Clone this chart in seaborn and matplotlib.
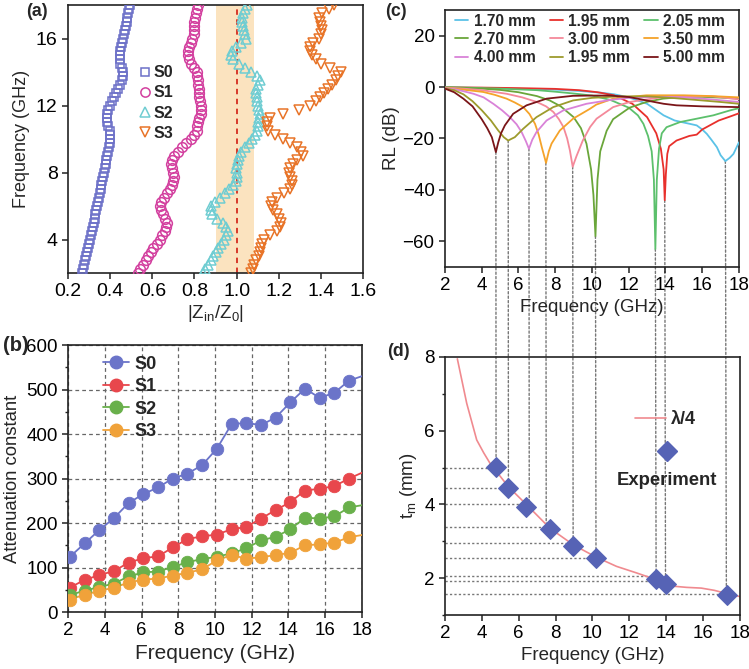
import numpy as np
import pandas as pd
import matplotlib
matplotlib.use("Agg")
import matplotlib.pyplot as plt
import seaborn as sns
from matplotlib.lines import Line2D
from matplotlib.patches import ConnectionPatch
from matplotlib.ticker import MultipleLocator

# ---------------- data: panel (a) ----------------
freq_a = np.arange(2.0, 18.001, 0.25)
z_s0 = [.267, .271, .275, .280, .285, .290, .296, .301, .306, .311, .316, .320, .324, .327, .330, .333,
        .336, .340, .345, .350, .355, .358, .362, .366, .370, .374, .378, .382, .386, .391, .395, .399,
        .401, .401, .397, .392, .387, .384, .384, .389, .397, .408, .420, .430, .438, .448, .458, .463,
        .461, .454, .448, .446, .446, .449, .452, .456, .460, .465, .470, .474, .478, .482, .486, .490, .494]
z_s1 = [.530, .542, .555, .568, .580, .592, .605, .620, .635, .648, .660, .666, .668, .662, .652, .642,
        .636, .642, .655, .670, .685, .694, .700, .702, .700, .694, .690, .695, .705, .720, .740, .762,
        .785, .800, .810, .813, .815, .822, .830, .832, .830, .826, .822, .821, .820, .818, .815, .813,
        .810, .798, .785, .776, .770, .771, .775, .782, .790, .796, .800, .800, .800, .802, .805, .810, .815]
z_s2 = [.840, .852, .865, .878, .890, .900, .910, .925, .940, .950, .958, .950, .935, .908, .885, .876,
        .880, .895, .920, .945, .965, .982, .995, 1.000, 1.000, .998, 1.000, 1.005, 1.010, 1.022, 1.040, 1.058,
        1.075, 1.088, 1.098, 1.100, 1.100, 1.106, 1.110, 1.106, 1.100, 1.097, 1.095, 1.090, 1.090, 1.102, 1.110, 1.095,
        1.070, 1.040, 1.010, .985, .975, .980, .995, 1.020, 1.045, 1.040, 1.035, 1.030, 1.025, 1.026, 1.030, 1.040, 1.050]
z_s3 = [1.068, 1.076, 1.084, 1.094, 1.104, 1.111, 1.116, 1.121, 1.130, 1.160, 1.190, 1.205, 1.210, 1.202, 1.190, 1.172,
        1.163, 1.170, 1.190, 1.225, 1.255, 1.262, 1.263, 1.255, 1.250, 1.252, 1.265, 1.288, 1.315, 1.305, 1.285, 1.255,
        1.220, 1.180, 1.150, 1.142, 1.145, 1.160, 1.220, 1.295, 1.350, 1.375, 1.395, 1.415, 1.435, 1.452, 1.470, 1.482,
        1.495, 1.445, 1.400, 1.375, 1.357, 1.350, 1.350, 1.362, 1.390, 1.400, 1.403, 1.398, 1.395, 1.392, 1.405, 1.440, 1.460]

# ---------------- data: panel (b) ----------------
freq_b = [2.1, 2.9, 3.7, 4.5, 5.3, 6.1, 6.9, 7.7, 8.5, 9.3, 10.1, 10.9, 11.7, 12.5, 13.3, 14.1, 14.9, 15.7, 16.5, 17.3, 18.0]
att_s0 = [124, 154, 184, 211, 245, 265, 280, 300, 311, 330, 367, 422, 425, 420, 437, 471, 502, 481, 493, 520, 530]
att_s1 = [55, 72, 83, 92, 111, 121, 125, 145, 164, 170, 174, 186, 191, 210, 229, 247, 273, 277, 283, 300, 313]
att_s2 = [38, 48, 56, 64, 80, 89, 91, 101, 112, 119, 124, 132, 143, 161, 169, 186, 212, 210, 215, 235, 240]
att_s3 = [28, 39, 47, 55, 66, 73, 75, 82, 88, 96, 116, 128, 120, 123, 128, 133, 150, 152, 156, 168, 173]

# ---------------- data: panel (c) ----------------
f_170 = [2, 4, 6, 8, 9.3, 10.5, 11.2, 12, 13, 13.9, 14.5, 15, 15.7, 16, 16.25, 16.5, 16.8, 17.0, 17.26, 17.5, 17.7, 18]
rl_170 = [-0.2, -0.3, -0.7, -1.0, -1.5, -2.2, -2.8, -4.0, -6.5, -11, -13, -13.8, -14.9, -16.5, -18.2, -20.5, -23.4, -26.5, -28.8, -27.5, -26, -21.5]
f_195 = [2, 4, 6, 8, 9.3, 10.3, 11.2, 12.2, 13.0, 13.5, 13.75, 13.9, 13.96, 14.02, 14.1, 14.2, 14.6, 15.3, 15.7, 16.0, 16.9, 17.5, 18]
rl_195 = [-0.1, -0.2, -0.4, -0.7, -1.2, -2.0, -3.2, -6.5, -11.7, -18, -24, -32, -44, -34, -26, -23, -20.8, -19, -18.5, -16.5, -13, -11.5, -10.2]
f_205 = [2, 3, 5, 7, 8, 9, 10, 11, 12, 12.5, 12.8, 13.05, 13.25, 13.37, 13.45, 13.53, 13.65, 13.8, 14.06, 14.8, 15.7, 16.6, 17.5, 18]
rl_205 = [-0.1, -0.2, -0.6, -1.2, -1.8, -2.5, -3.3, -5, -8, -11, -14.3, -19, -25, -36, -63, -36, -24, -18, -15.6, -13.6, -12.3, -11, -9.1, -8.2]
f_270 = [2, 3, 4, 5, 6, 7, 7.7, 8.3, 9.0, 9.4, 9.7, 9.95, 10.08, 10.19, 10.3, 10.45, 10.8, 11.15, 12.05, 12.96, 13.86, 15, 16, 17, 18]
rl_270 = [-0.1, -0.3, -0.6, -1.1, -2.0, -3.5, -5.2, -7.5, -11.7, -16, -22, -32, -42, -58, -36, -25, -17, -12.5, -8, -5.8, -4.5, -3.8, -3.8, -4.1, -4.5]
f_300 = [2, 3, 4, 5.35, 6.2, 7.0, 7.5, 7.9, 8.2, 8.45, 8.65, 8.8, 8.95, 9.15, 9.5, 9.9, 10.25, 11.15, 12.05, 13.86, 15, 16.6, 18]
rl_300 = [-0.2, -0.6, -1.2, -2.6, -4.0, -5.8, -7.5, -9.7, -12.5, -15.6, -20, -24.7, -31, -27, -20.8, -15.5, -12.3, -7.8, -5.8, -3.9, -3.5, -3.6, -4.8]
f_350 = [2, 3, 4.08, 4.7, 5.35, 5.8, 6.26, 6.6, 6.9, 7.1, 7.27, 7.5, 7.65, 7.8, 8.25, 8.97, 9.88, 10.24, 11.15, 12.96, 15, 16.5, 18]
rl_350 = [-0.3, -1.0, -1.9, -3.0, -4.5, -6.0, -7.8, -10.5, -14.3, -18.5, -23.4, -29.5, -25, -22, -16.9, -12.3, -8.5, -6.8, -4.5, -3.2, -3.2, -3.5, -4.0]
f_400 = [2, 2.5, 3.0, 3.55, 4.1, 4.63, 5.1, 5.53, 5.9, 6.17, 6.4, 6.57, 6.75, 6.98, 7.53, 8.43, 9.7, 11, 12, 13.5, 15, 16.5, 18]
rl_400 = [-0.4, -0.8, -1.6, -2.6, -4.0, -6.5, -9.0, -11.7, -14.5, -17.5, -21, -24, -20.5, -17.5, -13, -9.1, -6.5, -5.0, -4.2, -3.8, -4.0, -4.8, -5.8]
f_195b = [2, 2.5, 3.0, 3.5, 4.0, 4.5, 4.9, 5.2, 5.44, 5.6, 5.8, 6.26, 6.98, 7.89, 8.97, 10, 11.5, 13, 14.5, 16, 17, 18]
rl_195b = [-0.5, -1.2, -2.8, -5.5, -9.0, -13, -16.9, -19.5, -20.8, -20.2, -19.5, -16.2, -11.7, -7.8, -5.2, -4.2, -3.6, -3.6, -4.3, -5.2, -5.8, -6.5]
f_500 = [2, 2.5, 3.0, 3.5, 4.0, 4.3, 4.55, 4.77, 4.9, 5.05, 5.26, 5.71, 6.44, 7.53, 8.97, 10, 11, 12.05, 12.96, 13.9, 14.6, 16, 18]
rl_500 = [-0.6, -2.0, -4.5, -7.5, -12.5, -16, -19.5, -25.3, -21.5, -18, -14.9, -10.4, -7.1, -4.5, -3.4, -3.3, -3.3, -3.9, -5.2, -6.5, -7.1, -7.5, -7.8]

# ---------------- data: panel (d) ----------------
dip_f = [4.77, 5.44, 6.57, 7.49, 8.95, 10.19, 13.45, 13.96, 17.26]
dip_rl = [-25.3, -20.8, -24, -29.5, -31, -58, -63, -44, -28.8]
t_level = [4.98, 4.44, 4.0, 3.4, 2.95, 2.56, 2.07, 1.91, 1.58]
exp_f = [4.74, 5.44, 6.4, 7.71, 8.94, 10.18, 13.42, 14.0, 17.27]
exp_t = [5.02, 4.45, 3.94, 3.34, 2.88, 2.54, 1.97, 1.84, 1.55]
qw_f = [2.67, 3.18, 3.72, 4.1, 4.45, 5.44, 6.43, 7.7, 8.97, 10.2, 11.3, 12.4, 13.5, 14.2, 15.1, 15.9, 16.6, 17.3, 18.0]
qw_t = [7.95, 6.74, 5.75, 5.4, 5.11, 4.48, 3.99, 3.35, 2.9, 2.57, 2.32, 2.14, 1.95, 1.79, 1.75, 1.73, 1.67, 1.58, 1.5]

# ---------------- style ----------------
sns.set_theme(style="ticks")
plt.rcParams["font.family"] = ["Liberation Sans", "DejaVu Sans"]
plt.rcParams.update({
    "axes.linewidth": 1.2, "axes.edgecolor": "#222222",
    "xtick.direction": "out", "ytick.direction": "out",
    "xtick.major.size": 4, "ytick.major.size": 4,
    "xtick.minor.size": 2.5, "ytick.minor.size": 2.5,
    "xtick.major.width": 1.1, "ytick.major.width": 1.1,
    "xtick.color": "#222222", "ytick.color": "#222222",
    "xtick.labelcolor": "black", "ytick.labelcolor": "black",
    "mathtext.default": "regular",
})

fig = plt.figure(figsize=(7.49, 6.69), dpi=100)
ax_a = fig.add_axes([0.0908, 0.5919, 0.3940, 0.4006])
ax_b = fig.add_axes([0.0908, 0.0852, 0.3925, 0.3991])
ax_c = fig.add_axes([0.5941, 0.6009, 0.3925, 0.3842])
ax_d = fig.add_axes([0.5941, 0.0807, 0.3939, 0.3857])
ax_c.set_facecolor("none")
ax_d.set_facecolor("none")

TICK = 13.5
LAB = 13.5

# ---------------- panel (a) ----------------
ax_a.axvspan(0.9, 1.08, color="#fbe3bf", zorder=0, lw=0)
ax_a.axvline(1.0, color="#d42a1e", ls=(0, (3, 2.5)), lw=1.3, zorder=1)
a_series = [("S0", z_s0, "s", "#6c70c8", 5.6),
            ("S1", z_s1, "o", "#d3409f", 7.0),
            ("S2", z_s2, "^", "#70cdd2", 7.5),
            ("S3", z_s3, "v", "#e87428", 7.5)]
for name, vals, mk, col, ms in a_series:
    sns.lineplot(x=vals, y=freq_a, sort=False, estimator=None, ax=ax_a, legend=False,
                 linestyle="none", marker=mk, markersize=ms, markerfacecolor="none",
                 markeredgecolor=col, markeredgewidth=1.1, color=col, zorder=3)
ax_a.set_xlim(0.2, 1.6)
ax_a.set_ylim(2, 18)
ax_a.set_xticks([0.2, 0.4, 0.6, 0.8, 1.0, 1.2, 1.4, 1.6])
ax_a.set_xticklabels(["0.2", "0.4", "0.6", "0.8", "1.0", "1.2", "1.4", "1.6"])
ax_a.set_yticks([4, 8, 12, 16])
ax_a.tick_params(labelsize=14)
ax_a.set_xlabel(r"|Z$_{in}$/Z$_0$|", fontsize=LAB, labelpad=2)
ax_a.set_ylabel("Frequency (GHz)", fontsize=13, labelpad=4)
ha = [Line2D([], [], ls="none", marker=mk, markersize=ms * 0.95, markerfacecolor="none",
             markeredgecolor=col, markeredgewidth=1.1) for _, _, mk, col, ms in a_series]
ax_a.legend(ha, [s[0] for s in a_series], loc="upper left", bbox_to_anchor=(0.245, 0.775),
            frameon=False, handlelength=0.6, handletextpad=0.25, labelspacing=0.32,
            borderpad=0, borderaxespad=0, prop={"weight": "bold", "size": 11.5})

# ---------------- panel (b) ----------------
b_series = [("S0", att_s0, "#6b74c9"), ("S1", att_s1, "#e8474c"),
            ("S2", att_s2, "#69b04b"), ("S3", att_s3, "#f0a23a")]
ax_b.grid(True, ls=(0, (3, 2.5)), color="#666666", lw=0.9)
for name, vals, col in b_series:
    sns.lineplot(x=freq_b, y=vals, ax=ax_b, color=col, lw=1.3, legend=False,
                 sort=False, estimator=None, zorder=3)
    sns.lineplot(x=freq_b[:-1], y=vals[:-1], ax=ax_b, color=col, lw=0, legend=False,
                 sort=False, estimator=None, marker="o", markersize=9,
                 markeredgecolor=col, markeredgewidth=0.6, zorder=4)
ax_b.set_xlim(2, 18)
ax_b.set_ylim(0, 600)
ax_b.set_xticks(range(2, 19, 2))
ax_b.set_yticks(range(0, 601, 100))
ax_b.yaxis.set_minor_locator(MultipleLocator(50))
ax_b.tick_params(labelsize=TICK)
ax_b.set_xlabel("Frequency (GHz)", fontsize=15, labelpad=3)
ax_b.set_ylabel("Attenuation constant", fontsize=13.3, labelpad=4)
hb = [Line2D([], [], color=col, lw=1.3, marker="o", markersize=9, markeredgecolor=col)
      for _, _, col in b_series]
ax_b.legend(hb, [s[0] for s in b_series], loc="upper left", bbox_to_anchor=(0.12, 0.96),
            frameon=False, handlelength=1.45, handletextpad=0.3, labelspacing=0.3,
            borderpad=0, borderaxespad=0, prop={"weight": "bold", "size": 13})

# ---------------- panel (c) ----------------
c_series = [("1.70 mm", f_170, rl_170, "#5bc2e7"),
            ("1.95 mm", f_195, rl_195, "#e8302c"),
            ("2.05 mm", f_205, rl_205, "#5cc06c"),
            ("2.70 mm", f_270, rl_270, "#6aa63a"),
            ("3.00 mm", f_300, rl_300, "#f4899a"),
            ("3.50 mm", f_350, rl_350, "#f5a32a"),
            ("4.00 mm", f_400, rl_400, "#d982d8"),
            ("1.95 mm", f_195b, rl_195b, "#9d9b2d"),
            ("5.00 mm", f_500, rl_500, "#7a1518")]
for name, fx, ry, col in c_series:
    sns.lineplot(x=fx, y=ry, ax=ax_c, color=col, lw=1.3, legend=False,
                 sort=False, estimator=None, zorder=3)
ax_c.set_xlim(2, 18)
ax_c.set_ylim(-70, 30)
ax_c.set_xticks(range(2, 19, 2))
ax_c.set_yticks([-60, -40, -20, 0, 20])
ax_c.tick_params(labelsize=TICK)
ax_c.set_xlabel("Frequency (GHz)", fontsize=LAB, labelpad=3)
ax_c.set_ylabel("RL (dB)", fontsize=LAB, labelpad=2)
order = [0, 3, 6, 1, 4, 7, 2, 5, 8]
hc = [Line2D([], [], color=c_series[i][3], lw=1.3) for i in order]
lc = [c_series[i][0] for i in order]
ax_c.legend(hc, lc, ncol=3, loc="upper left", bbox_to_anchor=(0.035, 0.985),
            frameon=False, handlelength=0.85, handletextpad=0.35, columnspacing=0.9,
            labelspacing=0.2, borderpad=0, borderaxespad=0,
            prop={"weight": "bold", "size": 11.2})

# ---------------- panel (d) ----------------
dot = (0, (1.6, 1.6))
ax_d.hlines(t_level, 2, dip_f, colors="#777777", linestyles=dot, lw=1.0, zorder=1)
sns.lineplot(x=qw_f, y=qw_t, ax=ax_d, color="#f08a8f", lw=1.2, legend=False,
             sort=False, estimator=None, zorder=2)
sns.lineplot(x=exp_f, y=exp_t, ax=ax_d, color="#5663b5", lw=0, legend=False,
             sort=False, estimator=None, marker="D", markersize=10,
             markeredgecolor="#5663b5", zorder=4)
ax_d.set_xlim(2, 18)
ax_d.set_ylim(1, 8)
ax_d.set_xticks(range(2, 19, 2))
ax_d.set_yticks([2, 4, 6, 8])
ax_d.yaxis.set_minor_locator(MultipleLocator(1))
ax_d.tick_params(labelsize=TICK)
ax_d.set_xlabel("Frequency (GHz)", fontsize=LAB, labelpad=3)
ax_d.set_ylabel(r"t$_m$ (mm)", fontsize=LAB, labelpad=4)
leg1 = ax_d.legend([Line2D([], [], color="#f08a8f", lw=1.2)], ["λ/4"], loc="center left",
                   bbox_to_anchor=(0.645, 0.756), frameon=False, handlelength=1.7,
                   handletextpad=0.25, borderpad=0, borderaxespad=0,
                   prop={"weight": "bold", "size": 13})
ax_d.add_artist(leg1)
ax_d.legend([Line2D([], [], ls="none", marker="D", markersize=10, color="#5663b5")], [""],
            loc="center", bbox_to_anchor=(0.752, 0.632), frameon=False, handlelength=1.0,
            handletextpad=0, borderpad=0, borderaxespad=0)
ax_d.text(0.754, 0.523, "Experiment", transform=ax_d.transAxes, ha="center", va="center",
          fontsize=13.3, fontweight="bold")

# connecting dotted lines between (c) dips and (d) thickness levels
for fx, ry, tl in zip(dip_f, dip_rl, t_level):
    con = ConnectionPatch(xyA=(fx, ry), coordsA=ax_c.transData, xyB=(fx, tl), coordsB=ax_d.transData,
                          color="#777777", lw=1.0, linestyle=dot, zorder=-1)
    fig.add_artist(con)

for ax in (ax_a, ax_b, ax_c, ax_d):
    for sp in ax.spines.values():
        sp.set_visible(True)
        sp.set_linewidth(1.2)
        sp.set_color("#222222")

# panel labels
fig.text(37 / 749, 1 - 12 / 669, "(a)", fontsize=12.8, fontweight="bold", ha="center", va="center")
fig.text(16 / 749, 1 - 345 / 669, "(b)", fontsize=14.5, fontweight="bold", ha="center", va="center")
fig.text(396 / 749, 1 - 12 / 669, "(c)", fontsize=12.8, fontweight="bold", ha="center", va="center")
fig.text(398 / 749, 1 - 351 / 669, "(d)", fontsize=12.8, fontweight="bold", ha="center", va="center")

fig.savefig("out.png", dpi=100)
